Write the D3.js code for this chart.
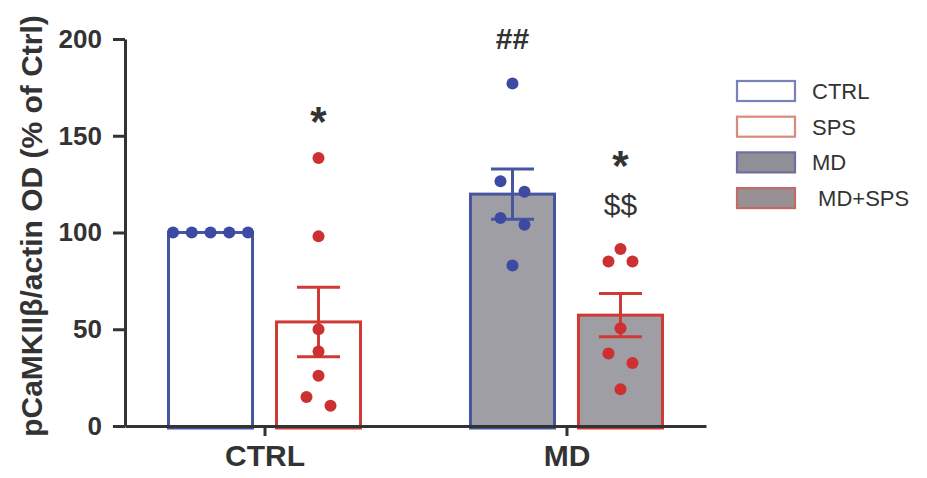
<!DOCTYPE html>
<html>
<head>
<meta charset="utf-8">
<script src="https://cdn.jsdelivr.net/npm/d3@7"></script>
<style>
  body { margin: 0; background: #fff; }
  svg text { font-family: "Liberation Sans", Arial, Helvetica, sans-serif; }
</style>
</head>
<body>
<svg id="chart" width="927" height="478"></svg>
<script>
// ---- data -------------------------------------------------------------
const groups = ["CTRL", "MD"];
const seriesNames = ["CTRL", "SPS", "MD", "MD+SPS"];
const seriesGroup = ["CTRL", "CTRL", "MD", "MD"];
const ctrlValues = [100, 100, 100, 100, 100];
const spsValues = [138.5, 98, 50, 38.5, 26, 15, 10.5];
const mdValues = [177, 126.5, 121, 107.5, 104, 83];
const mdSpsValues = [91.5, 85, 85, 50.5, 37.5, 32.5, 19];
// significance marks per series, listed from the lowest line upward
const marks = [[], ["*"], ["##"], ["$$", "*"]];
const yTicks = [0, 50, 100, 150, 200];
const legendLabels = ["CTRL", "SPS", "MD", " MD+SPS"];

const seriesValues = [ctrlValues, spsValues, mdValues, mdSpsValues];

// ---- styles -----------------------------------------------------------
const BLUE = "#46559f", RED = "#d03a35", GRAY = "#9e9ea4", INK = "#333";
const strokeCol = [BLUE, RED, BLUE, RED];
const dotCol = ["#3d4aa3", "#cc3030", "#3d4aa3", "#cc3030"];
const fillCol = ["#fff", "#fff", GRAY, GRAY];
const legendStroke = ["#7a80bc", "#d98a7e", "#6c70a0", "#c46a66"];
const legendFill = ["#fff", "#fff", "#8f8f98", "#979094"];

const svg = d3.select("#chart");

// ---- scales -----------------------------------------------------------
const y = d3.scaleLinear().domain([0, 200]).range([426, 39]);
const x0 = d3.scalePoint().domain(groups).range([125, 706]).padding(0.462);
const x1 = d3.scaleBand().domain([0, 1]).range([-96, 96]).paddingInner(0.222);

const subIndex = seriesNames.map((s, i) => seriesGroup.slice(0, i).filter(g => g === seriesGroup[i]).length);
const barLeft = i => x0(seriesGroup[i]) + x1(subIndex[i]);
const barCenter = i => barLeft(i) + x1.bandwidth() / 2;

const stats = seriesValues.map(v => {
  const m = d3.mean(v);
  const sem = (d3.deviation(v) || 0) / Math.sqrt(v.length);
  return { mean: m, sem: sem, max: d3.max(v) };
});

// ---- bars -------------------------------------------------------------
const bars = svg.append("g");
seriesNames.forEach((s, i) => {
  bars.append("rect")
    .attr("x", barLeft(i))
    .attr("y", y(stats[i].mean))
    .attr("width", x1.bandwidth())
    .attr("height", y(0) - y(stats[i].mean) + 2)
    .attr("fill", fillCol[i])
    .attr("stroke", strokeCol[i])
    .attr("stroke-width", 3);
});

// ---- error bars (mean ± SEM) ----------------------------------------
const capW = 43;
const errs = svg.append("g");
seriesNames.forEach((s, i) => {
  const st = stats[i];
  if (st.sem <= 0) return;
  const cx = barCenter(i);
  const yHi = y(st.mean + st.sem), yLo = y(st.mean - st.sem);
  const g = errs.append("g").attr("stroke", strokeCol[i]).attr("stroke-width", 3);
  g.append("line").attr("x1", cx).attr("x2", cx).attr("y1", yHi).attr("y2", yLo);
  g.append("line").attr("x1", cx - capW / 2).attr("x2", cx + capW / 2).attr("y1", yHi).attr("y2", yHi);
  g.append("line").attr("x1", cx - capW / 2).attr("x2", cx + capW / 2).attr("y1", yLo).attr("y2", yLo);
});

// ---- axes -------------------------------------------------------------
const yAxis = svg.append("g")
  .attr("transform", "translate(125,0)")
  .call(d3.axisLeft(y).tickValues(yTicks).tickSize(12).tickSizeOuter(0).tickPadding(11));
yAxis.selectAll("text").attr("font-size", 26).attr("font-weight", "bold").attr("fill", INK);

const xAxis = svg.append("g")
  .attr("transform", `translate(0,${y(0)})`)
  .call(d3.axisBottom(x0).tickSize(10).tickSizeOuter(0).tickPadding(9));
xAxis.selectAll("text").attr("font-size", 30).attr("font-weight", "bold").attr("fill", INK);

[yAxis, xAxis].forEach(a => {
  a.select(".domain").attr("stroke", INK).attr("stroke-width", 3);
  a.selectAll(".tick line").attr("stroke", INK).attr("stroke-width", 3);
});

svg.append("text")
  .attr("transform", `translate(42,226) rotate(-90)`)
  .attr("text-anchor", "middle")
  .attr("font-size", 30)
  .attr("font-weight", "bold")
  .attr("fill", INK)
  .text("pCaMKIIβ/actin OD (% of Ctrl)");

// ---- individual points, spread where they would overlap -------------
const R = 6;
function swarm(values, cx) {
  const pts = values.map(v => ({ v, py: y(v) })).sort((a, b) => a.py - b.py);
  const clusters = [];
  pts.forEach((p, k) => {
    if (k > 0 && p.py - pts[k - 1].py < 2 * R) clusters[clusters.length - 1].push(p);
    else clusters.push([p]);
  });
  clusters.forEach(c => {
    const n = c.length;
    const step = n > 1 ? Math.min(24, 75 / (n - 1)) : 0;
    c.forEach((p, k) => { p.px = cx + (k - (n - 1) / 2) * step; });
  });
  return pts;
}
const dots = svg.append("g");
seriesNames.forEach((s, i) => {
  dots.selectAll(null)
    .data(swarm(seriesValues[i], barCenter(i)))
    .join("circle")
    .attr("cx", d => d.px)
    .attr("cy", d => d.py)
    .attr("r", R)
    .attr("fill", dotCol[i]);
});

// ---- significance marks ----------------------------------------------
const markG = svg.append("g").attr("fill", INK).attr("text-anchor", "middle");
seriesNames.forEach((s, i) => {
  marks[i].forEach((m, k) => {
    const cy = y(stats[i].max) - 45 - k * 47;
    const star = m === "*";
    const fs = star ? 42 : 30;
    markG.append("text")
      .attr("x", barCenter(i))
      .attr("y", cy + (star ? 0.55 : 0.36) * fs)
      .attr("font-size", fs)
      .attr("font-weight", m === "$$" ? "normal" : "bold")
      .text(m);
  });
});

// ---- legend -----------------------------------------------------------
const legend = svg.append("g").attr("transform", "translate(737,81)");
legendLabels.forEach((lab, i) => {
  const g = legend.append("g").attr("transform", `translate(0,${i * 35.7})`);
  g.append("rect")
    .attr("width", 58).attr("height", 20)
    .attr("fill", legendFill[i])
    .attr("stroke", legendStroke[i])
    .attr("stroke-width", 2.2);
  g.append("text")
    .attr("x", 75).attr("y", 10 + 0.36 * 22)
    .attr("font-size", 22)
    .attr("fill", INK)
    .style("white-space", "pre")
    .text(lab);
});
</script>
</body>
</html>
